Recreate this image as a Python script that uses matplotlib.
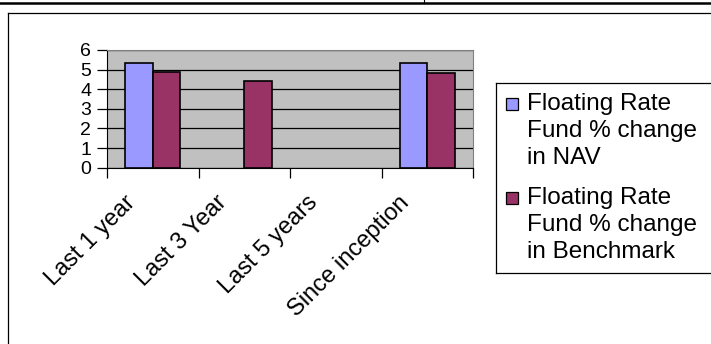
import matplotlib.pyplot as plt
import numpy as np
from matplotlib.lines import Line2D
from matplotlib.patches import Rectangle
from matplotlib.transforms import ScaledTranslation

plt.rcParams['font.family'] = ['Liberation Sans', 'DejaVu Sans']

# fund returns by period (% change)
periods = ['Last 1 year', 'Last 3 Year', 'Last 5 years', 'Since inception']
nav_change = [5.35, np.nan, np.nan, 5.35]
benchmark_change = [4.88, 4.44, np.nan, 4.82]
series_names = ['Floating Rate\nFund % change\nin NAV',
                'Floating Rate\nFund % change\nin Benchmark']
colors = ['#9999FF', '#993366']

W, H = 711, 344
fig = plt.figure(figsize=(W / 100, H / 100), dpi=100)


def fx(x):
    return x / W


def fy(y):
    return 1 - y / H


def hline(x0, x1, y, **kw):
    fig.add_artist(Line2D([fx(x0), fx(x1)], [fy(y), fy(y)], **kw))


def vline(x, y0, y1, **kw):
    fig.add_artist(Line2D([fx(x), fx(x)], [fy(y0), fy(y1)], **kw))


# page rule and chart frame
hline(0, W, 2.5, color='black', lw=1.8)
vline(423.5, 0, 3, color='black', lw=0.8)
hline(7.5, W, 12.5, color='black', lw=0.9)
vline(7.5, 12.5, H, color='black', lw=0.9)

ax = fig.add_axes([fx(107), fy(167.7), fx(366), 117.7 / H])
ax.set_facecolor('#C0C0C0')

x = np.arange(len(periods))
w = 0.3
bars_nav = ax.bar(x - w / 2, nav_change, w, color=colors[0], edgecolor='black',
                  linewidth=1.2, zorder=3)
bars_bm = ax.bar(x + w / 2, benchmark_change, w, color=colors[1], edgecolor='black',
                 linewidth=1.2, zorder=3)

ax.set_xlim(-0.5, len(periods) - 0.5)
ax.set_ylim(0, 6)
ax.set_yticks(range(7))
ax.yaxis.grid(True, color='black', linewidth=0.9)
ax.set_axisbelow(True)

for side in ['top', 'right']:
    ax.spines[side].set_color('#808080')
for side in ['left', 'bottom']:
    ax.spines[side].set_color('black')

ax.tick_params(axis='y', direction='out', length=7, width=0.9, labelsize=14, pad=4.5)

# category boundaries carry the tick marks, centres carry the labels
ax.set_xticks(np.arange(-0.5, len(periods)), minor=True)
ax.tick_params(axis='x', which='minor', direction='out', length=7, width=0.9)
ax.set_xticks(x)
ax.set_xticklabels(periods, rotation=45, ha='right', va='top', rotation_mode='anchor',
                   fontsize=17)
ax.tick_params(axis='x', which='major', length=0, pad=17)
shift = ScaledTranslation(-29 / 100, 0, fig.dpi_scale_trans)
for lab in ax.get_xticklabels():
    lab.set_transform(lab.get_transform() + shift)

# legend box, open to the right edge
hline(495.5, W, 83, color='black', lw=0.9)
hline(495.5, W, 273, color='black', lw=0.9)
vline(495.5, 83, 273, color='black', lw=0.9)
for i, (name, bars) in enumerate(zip(series_names, [bars_nav, bars_bm])):
    top = 98 + 94 * i
    fig.add_artist(Rectangle((fx(505.5), fy(top + 12)), 12 / W, 12 / H,
                             transform=fig.transFigure,
                             facecolor=bars.patches[0].get_facecolor(),
                             edgecolor='black', lw=0.9))
    fig.text(fx(527), fy(top - 5), name, fontsize=17.5, va='top', ha='left',
             linespacing=1.3)

fig.savefig('out.png', dpi=100)
